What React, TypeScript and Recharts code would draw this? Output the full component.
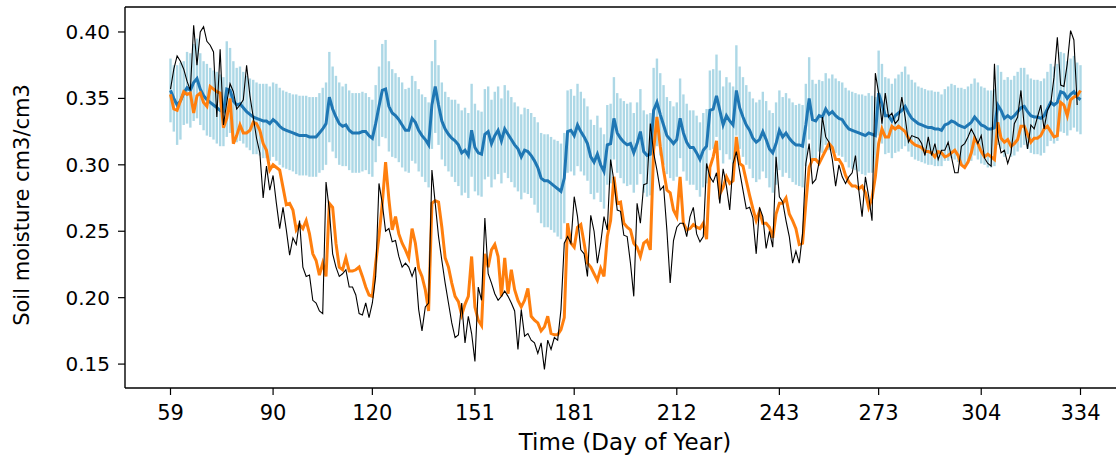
import React from 'react';
import { ComposedChart, Line, XAxis, YAxis, ErrorBar, ReferenceLine } from 'recharts';

const firstDay = 59;
const dayTicks = [59, 90, 120, 151, 181, 212, 243, 273, 304, 334];
const moistureTicks = [0.15, 0.2, 0.25, 0.3, 0.35, 0.4];

// black: in situ observations (one value per day, from day 59)
const observed = [
  0.357, 0.372, 0.382, 0.378, 0.372, 0.363, 0.356, 0.405, 0.375, 0.400,
  0.404, 0.393, 0.390, 0.385, 0.336, 0.387, 0.330, 0.347, 0.361, 0.355,
  0.342, 0.345, 0.349, 0.375, 0.352, 0.336, 0.320, 0.309, 0.275, 0.299,
  0.281, 0.292, 0.271, 0.252, 0.268, 0.251, 0.232, 0.245, 0.240, 0.258,
  0.223, 0.216, 0.217, 0.198, 0.196, 0.190, 0.188, 0.287, 0.266, 0.233,
  0.223, 0.216, 0.218, 0.221, 0.208, 0.208, 0.202, 0.188, 0.187, 0.196,
  0.185, 0.196, 0.216, 0.286, 0.271, 0.250, 0.252, 0.242, 0.243, 0.231,
  0.223, 0.226, 0.223, 0.216, 0.223, 0.191, 0.175, 0.193, 0.196, 0.296,
  0.271, 0.246, 0.228, 0.211, 0.196, 0.181, 0.170, 0.172, 0.196, 0.166,
  0.186, 0.173, 0.152, 0.208, 0.198, 0.260, 0.218, 0.211, 0.203, 0.198,
  0.201, 0.205, 0.201, 0.196, 0.190, 0.161, 0.191, 0.171, 0.173, 0.168,
  0.166, 0.158, 0.166, 0.146, 0.168, 0.161, 0.170, 0.168, 0.191, 0.241,
  0.246, 0.241, 0.276, 0.261, 0.236, 0.233, 0.216, 0.262, 0.250, 0.226,
  0.241, 0.261, 0.251, 0.304, 0.288, 0.266, 0.265, 0.247, 0.246, 0.226,
  0.201, 0.271, 0.256, 0.285, 0.286, 0.331, 0.309, 0.296, 0.281, 0.284,
  0.251, 0.211, 0.243, 0.253, 0.256, 0.256, 0.246, 0.261, 0.268, 0.248,
  0.242, 0.246, 0.301, 0.291, 0.287, 0.294, 0.271, 0.297, 0.284, 0.266,
  0.301, 0.310, 0.295, 0.281, 0.267, 0.268, 0.260, 0.233, 0.268, 0.261,
  0.237, 0.250, 0.238, 0.306, 0.276, 0.272, 0.258, 0.246, 0.226, 0.235,
  0.226, 0.248, 0.301, 0.316, 0.286, 0.289, 0.302, 0.336, 0.321, 0.317,
  0.304, 0.284, 0.300, 0.291, 0.286, 0.291, 0.294, 0.307, 0.281, 0.261,
  0.291, 0.276, 0.258, 0.369, 0.354, 0.331, 0.354, 0.336, 0.339, 0.331,
  0.334, 0.351, 0.336, 0.317, 0.322, 0.321, 0.320, 0.316, 0.307, 0.321,
  0.307, 0.316, 0.304, 0.311, 0.311, 0.317, 0.306, 0.294, 0.294, 0.314,
  0.316, 0.321, 0.327, 0.322, 0.316, 0.322, 0.305, 0.301, 0.299, 0.376,
  0.321, 0.309, 0.311, 0.301, 0.309, 0.331, 0.336, 0.356, 0.329, 0.312,
  0.330, 0.327, 0.336, 0.345, 0.327, 0.341, 0.346, 0.366, 0.396, 0.360,
  0.359, 0.376, 0.401, 0.394, 0.345, null,
];

// blue: ensemble mean
const ensembleMean = [
  0.356, 0.350, 0.345, 0.348, 0.354, 0.358, 0.356, 0.362, 0.365, 0.357,
  0.352, 0.349, 0.347, 0.345, 0.343, 0.341, 0.340, 0.357, 0.356, 0.348,
  0.345, 0.346, 0.343, 0.340, 0.338, 0.336, 0.335, 0.334, 0.333, 0.333,
  0.331, 0.334, 0.332, 0.329, 0.327, 0.326, 0.325, 0.324, 0.323, 0.322,
  0.322, 0.322, 0.321, 0.321, 0.321, 0.324, 0.327, 0.331, 0.351, 0.342,
  0.336, 0.331, 0.329, 0.330, 0.326, 0.324, 0.324, 0.324, 0.325, 0.325,
  0.322, 0.320, 0.331, 0.344, 0.356, 0.357, 0.344, 0.339, 0.337, 0.334,
  0.330, 0.326, 0.326, 0.335, 0.332, 0.326, 0.322, 0.319, 0.315, 0.345,
  0.359, 0.345, 0.333, 0.327, 0.323, 0.320, 0.318, 0.315, 0.309, 0.311,
  0.307, 0.326, 0.313, 0.309, 0.308, 0.323, 0.325, 0.316, 0.322, 0.326,
  0.318, 0.327, 0.323, 0.319, 0.315, 0.312, 0.306, 0.311, 0.310, 0.307,
  0.303, 0.298, 0.290, 0.288, 0.288, 0.286, 0.284, 0.282, 0.280, 0.290,
  0.325, 0.326, 0.322, 0.330, 0.325, 0.321, 0.316, 0.306, 0.302, 0.308,
  0.300, 0.295, 0.315, 0.316, 0.335, 0.324, 0.320, 0.317, 0.315, 0.316,
  0.309, 0.316, 0.325, 0.310, 0.307, 0.308, 0.341, 0.347, 0.338, 0.330,
  0.322, 0.319, 0.316, 0.319, 0.335, 0.324, 0.317, 0.313, 0.313, 0.309,
  0.304, 0.311, 0.314, 0.341, 0.342, 0.352, 0.341, 0.330, 0.337, 0.333,
  0.330, 0.356, 0.343, 0.336, 0.330, 0.326, 0.320, 0.317, 0.319, 0.325,
  0.319, 0.312, 0.309, 0.316, 0.326, 0.321, 0.324, 0.320, 0.317, 0.315,
  0.315, 0.314, 0.330, 0.350, 0.334, 0.333, 0.337, 0.336, 0.342, 0.338,
  0.340, 0.337, 0.335, 0.334, 0.330, 0.327, 0.326, 0.325, 0.324, 0.323,
  0.322, 0.324, 0.323, 0.322, 0.354, 0.346, 0.337, 0.337, 0.333, 0.337,
  0.339, 0.341, 0.344, 0.339, 0.335, 0.333, 0.331, 0.330, 0.329, 0.328,
  0.328, 0.327, 0.327, 0.326, 0.330, 0.331, 0.333, 0.332, 0.330, 0.329,
  0.328, 0.330, 0.332, 0.336, 0.333, 0.330, 0.329, 0.327, 0.327, 0.328,
  0.345, 0.341, 0.335, 0.337, 0.335, 0.337, 0.340, 0.343, 0.344, 0.340,
  0.337, 0.336, 0.336, 0.335, 0.337, 0.342, 0.347, 0.345, 0.347, 0.355,
  0.354, 0.350, 0.353, 0.355, 0.351, 0.349,
];

// light blue bars: ensemble spread (half width)
const ensembleSpread = [
  0.024, 0.025, 0.030, 0.029, 0.024, 0.027, 0.028, 0.029, 0.030, 0.027,
  0.026, 0.027, 0.026, 0.026, 0.027, 0.027, 0.026, 0.036, 0.032, 0.030,
  0.028, 0.028, 0.027, 0.027, 0.027, 0.028, 0.027, 0.027, 0.028, 0.028,
  0.028, 0.028, 0.029, 0.029, 0.029, 0.029, 0.029, 0.029, 0.030, 0.030,
  0.030, 0.030, 0.030, 0.030, 0.030, 0.030, 0.031, 0.031, 0.034, 0.032,
  0.031, 0.031, 0.030, 0.031, 0.030, 0.030, 0.030, 0.030, 0.030, 0.029,
  0.029, 0.029, 0.029, 0.030, 0.035, 0.037, 0.034, 0.033, 0.032, 0.032,
  0.032, 0.031, 0.032, 0.032, 0.031, 0.031, 0.031, 0.032, 0.032, 0.033,
  0.035, 0.030, 0.029, 0.028, 0.028, 0.029, 0.031, 0.031, 0.032, 0.032,
  0.032, 0.035, 0.033, 0.032, 0.032, 0.034, 0.034, 0.033, 0.033, 0.033,
  0.032, 0.033, 0.033, 0.032, 0.032, 0.032, 0.032, 0.032, 0.032, 0.032,
  0.033, 0.034, 0.034, 0.035, 0.035, 0.035, 0.035, 0.036, 0.036, 0.034,
  0.031, 0.031, 0.030, 0.031, 0.030, 0.029, 0.028, 0.028, 0.028, 0.029,
  0.028, 0.028, 0.030, 0.030, 0.031, 0.030, 0.030, 0.031, 0.031, 0.031,
  0.030, 0.031, 0.032, 0.031, 0.031, 0.031, 0.032, 0.033, 0.031, 0.030,
  0.029, 0.029, 0.028, 0.028, 0.030, 0.029, 0.029, 0.028, 0.028, 0.028,
  0.028, 0.028, 0.028, 0.030, 0.030, 0.031, 0.030, 0.029, 0.029, 0.029,
  0.029, 0.034, 0.031, 0.030, 0.030, 0.029, 0.030, 0.030, 0.030, 0.030,
  0.029, 0.029, 0.030, 0.031, 0.030, 0.030, 0.030, 0.030, 0.030, 0.030,
  0.031, 0.031, 0.031, 0.031, 0.030, 0.028, 0.027, 0.027, 0.027, 0.027,
  0.028, 0.028, 0.028, 0.028, 0.028, 0.029, 0.029, 0.029, 0.029, 0.030,
  0.030, 0.030, 0.029, 0.029, 0.032, 0.030, 0.029, 0.028, 0.028, 0.028,
  0.029, 0.029, 0.030, 0.029, 0.029, 0.029, 0.028, 0.028, 0.028, 0.028,
  0.028, 0.028, 0.028, 0.027, 0.027, 0.028, 0.028, 0.028, 0.028, 0.029,
  0.029, 0.029, 0.029, 0.029, 0.029, 0.029, 0.029, 0.029, 0.029, 0.029,
  0.030, 0.029, 0.029, 0.029, 0.029, 0.030, 0.030, 0.030, 0.029, 0.028,
  0.028, 0.028, 0.028, 0.028, 0.028, 0.028, 0.029, 0.029, 0.029, 0.030,
  0.030, 0.028, 0.027, 0.027, 0.026, 0.026,
];

// orange: assimilation analysis
const analysis = [
  0.353, 0.342, 0.341, 0.348, 0.355, 0.353, 0.354, 0.339, 0.352, 0.354,
  0.347, 0.344, 0.359, 0.357, 0.355, 0.354, 0.328, 0.335, 0.350, 0.316,
  0.322, 0.330, 0.324, 0.324, 0.326, 0.332, 0.331, 0.326, 0.316, 0.311,
  0.296, 0.300, 0.298, 0.296, 0.283, 0.270, 0.271, 0.266, 0.251, 0.255,
  0.252, 0.258, 0.248, 0.233, 0.228, 0.217, 0.226, 0.216, 0.271, 0.268,
  0.241, 0.223, 0.221, 0.230, 0.220, 0.220, 0.221, 0.223, 0.216, 0.208,
  0.202, 0.201, 0.226, 0.246, 0.271, 0.302, 0.274, 0.251, 0.261, 0.248,
  0.241, 0.236, 0.230, 0.252, 0.241, 0.222, 0.216, 0.206, 0.190, 0.271,
  0.273, 0.272, 0.253, 0.230, 0.223, 0.211, 0.201, 0.197, 0.187, 0.195,
  0.201, 0.231, 0.193, 0.183, 0.179, 0.233, 0.223, 0.236, 0.240, 0.231,
  0.201, 0.230, 0.203, 0.221, 0.206, 0.198, 0.193, 0.198, 0.207, 0.186,
  0.183, 0.181, 0.175, 0.178, 0.186, 0.173, 0.172, 0.172, 0.176, 0.185,
  0.256, 0.241, 0.238, 0.253, 0.255, 0.241, 0.226, 0.223, 0.218, 0.213,
  0.222, 0.216, 0.246, 0.258, 0.291, 0.271, 0.272, 0.256, 0.253, 0.251,
  0.241, 0.238, 0.231, 0.241, 0.243, 0.236, 0.311, 0.336, 0.314, 0.296,
  0.281, 0.279, 0.266, 0.261, 0.291, 0.256, 0.251, 0.252, 0.255, 0.253,
  0.252, 0.256, 0.244, 0.298, 0.306, 0.318, 0.278, 0.283, 0.291, 0.286,
  0.288, 0.321, 0.301, 0.299, 0.288, 0.277, 0.267, 0.258, 0.265, 0.256,
  0.256, 0.253, 0.245, 0.263, 0.271, 0.271, 0.275, 0.263, 0.258, 0.252,
  0.240, 0.241, 0.271, 0.298, 0.304, 0.304, 0.301, 0.306, 0.311, 0.316,
  0.313, 0.304, 0.304, 0.300, 0.292, 0.287, 0.284, 0.284, 0.282, 0.284,
  0.279, 0.268, 0.275, 0.291, 0.316, 0.327, 0.321, 0.321, 0.329, 0.327,
  0.329, 0.327, 0.325, 0.320, 0.317, 0.315, 0.314, 0.313, 0.310, 0.310,
  0.309, 0.306, 0.310, 0.309, 0.306, 0.307, 0.309, 0.311, 0.307, 0.300,
  0.298, 0.302, 0.309, 0.320, 0.316, 0.310, 0.306, 0.308, 0.306, 0.304,
  0.332, 0.320, 0.317, 0.319, 0.314, 0.316, 0.319, 0.329, 0.329, 0.323,
  0.317, 0.320, 0.320, 0.322, 0.327, 0.329, 0.325, 0.321, 0.322, 0.347,
  0.345, 0.337, 0.349, 0.351, 0.352, 0.356,
];

const data = ensembleMean.map((mean, i) => ({
  day: firstDay + i,
  observed: observed[i],
  mean,
  spread: ensembleSpread[i],
  analysis: analysis[i],
}));

const font = 'DejaVu Sans';
const xMin = 45.25;
const xMax = 347.75;
const yMin = 0.132;
const yMax = 0.4188;

const YLabel = () => (
  <text
    x={22}
    y={205}
    transform="rotate(-90 22 205)"
    textAnchor="middle"
    dominantBaseline="central"
    fontFamily={font}
    fontSize={21}
    fill="#000"
  >
    Soil moisture cm3/cm3
  </text>
);

const XLabel = () => (
  <text x={625} y={450} textAnchor="middle" fontFamily={font} fontSize={23} fill="#000">
    Time (Day of Year)
  </text>
);

export default function App() {
  return (
    <div
      style={{
        position: 'absolute',
        left: 0,
        top: 0,
        width: 1116,
        height: 458,
        overflow: 'hidden',
        background: '#fff',
      }}
    >
      <ComposedChart
        width={1140}
        height={458}
        data={data}
        margin={{ top: 7, right: 14, left: 0, bottom: 0 }}
      >
        <XAxis
          dataKey="day"
          type="number"
          domain={[xMin, xMax]}
          ticks={dayTicks}
          allowDataOverflow
          height={70}
          stroke="#000"
          tickSize={7}
          tickMargin={10}
          tick={{ fill: '#000', fontFamily: font, fontSize: 21 }}
          axisLine={{ stroke: '#000', strokeWidth: 1.4 }}
          tickLine={{ stroke: '#000', strokeWidth: 1.2 }}
          label={<XLabel />}
        />
        <YAxis
          type="number"
          domain={[yMin, yMax]}
          ticks={moistureTicks}
          allowDataOverflow
          width={125}
          stroke="#000"
          tickSize={7}
          tickMargin={8}
          tickFormatter={(v: number) => v.toFixed(2)}
          tick={{ fill: '#000', fontFamily: font, fontSize: 20 }}
          axisLine={{ stroke: '#000', strokeWidth: 1.4 }}
          tickLine={{ stroke: '#000', strokeWidth: 1.2 }}
          label={<YLabel />}
        />
        <ReferenceLine y={yMax} stroke="#000" strokeWidth={1.4} />
        <Line
          dataKey="mean"
          stroke="none"
          dot={false}
          activeDot={false}
          isAnimationActive={false}
        >
          <ErrorBar dataKey="spread" width={0} stroke="#add8e6" strokeWidth={2.4} direction="y" />
        </Line>
        <Line
          dataKey="mean"
          stroke="#1f77b4"
          strokeWidth={3}
          dot={false}
          activeDot={false}
          isAnimationActive={false}
        />
        <Line
          dataKey="analysis"
          stroke="#ff7f0e"
          strokeWidth={3}
          dot={false}
          activeDot={false}
          isAnimationActive={false}
        />
        <Line
          dataKey="observed"
          stroke="#000"
          strokeWidth={1.1}
          dot={false}
          activeDot={false}
          isAnimationActive={false}
        />
      </ComposedChart>
    </div>
  );
}
